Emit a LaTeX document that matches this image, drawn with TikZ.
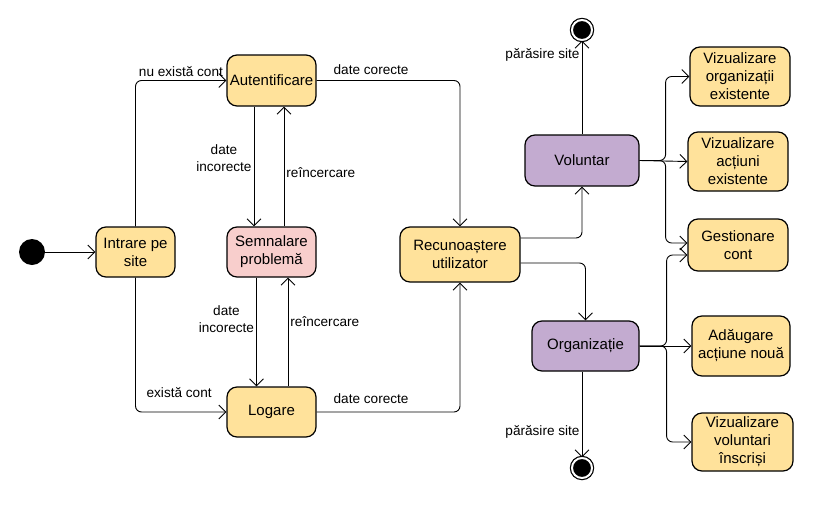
\documentclass[tikz,border=0pt]{standalone}
\usepackage{fontspec}
\setmainfont{Liberation Sans}
\usetikzlibrary{arrows.meta}
\definecolor{stareg}{RGB}{255,226,155}
\definecolor{starev}{RGB}{195,171,208}
\definecolor{starer}{RGB}{248,206,204}
\begin{document}
\begin{tikzpicture}[x=1pt,y=-1pt,
	stare/.style={draw,line width=1.2pt,rounded corners=10pt,fill=stareg,align=center,font=\fontsize{15}{18}\selectfont,inner sep=2pt},
	rol/.style={stare,fill=starev},
	eroare/.style={stare,fill=starer},
	init/.style={circle,fill=black,minimum size=26pt,inner sep=0pt},
	final/.style={circle,draw,fill=black,double=white,double distance=2pt,line width=1.2pt,minimum size=20pt,inner sep=0pt},
	tr/.style={draw,line width=0.9pt,rounded corners=6pt,-{Straight Barb[length=7pt,width=14pt,line width=0.9pt]}},
	lbl/.style={font=\fontsize{13.6}{17.5}\selectfont,align=center,inner sep=2pt}]
	\useasboundingbox (0,0) rectangle (823,523);
	\node[init] (start) at (32,252) {};
	\node[stare,minimum width=79pt,minimum height=50pt] (intrare) at (135.5,252) {Intrare pe\\site};
	\node[stare,minimum width=89pt,minimum height=51pt] (autent) at (271.5,80.5) {Autentificare};
	\node[eroare,minimum width=89pt,minimum height=50pt] (semnal) at (271.5,252) {Semnalare\\problemă};
	\node[stare,minimum width=89pt,minimum height=50pt] (logare) at (271.5,412) {Logare};
	\node[stare,minimum width=120pt,minimum height=55pt] (recun) at (460,254.5) {Recunoaștere\\utilizator};
	\node[rol,minimum width=114pt,minimum height=51pt] (volunt) at (582,160.5) {Voluntar};
	\node[rol,minimum width=107pt,minimum height=50pt] (organiz) at (585.5,346) {Organizație};
	\node[final] (sfarsit1) at (582,30) {};
	\node[final] (sfarsit2) at (582,468) {};
	\node[stare,minimum width=100pt,minimum height=59pt] (vizorg) at (740,76.5) {Vizualizare\\organizații\\existente};
	\node[stare,minimum width=100pt,minimum height=59pt] (vizact) at (738,161.5) {Vizualizare\\acțiuni\\existente};
	\node[stare,minimum width=100pt,minimum height=52pt] (gest) at (738,245) {Gestionare\\cont};
	\node[stare,minimum width=98pt,minimum height=60pt] (adaug) at (741,346) {Adăugare\\acțiune nouă};
	\node[stare,minimum width=101pt,minimum height=58pt] (vizvol) at (742.5,442) {Vizualizare\\voluntari\\înscriși};

	\draw[tr] (start) -- (intrare);
	\draw[tr] (intrare.north) |- node[lbl,pos=0.75,above=1pt] {nu există cont} (autent.west);
	\draw[tr] (intrare.south) |- node[lbl,pos=0.74,above=12pt] {există cont} (logare.west);
	\draw[tr] ([xshift=-17.5]autent.south) -- node[lbl,left,pos=0.43] {date\\incorecte} ([xshift=-17.5]semnal.north);
	\draw[tr] ([xshift=12.5]semnal.north) -- node[lbl,right,pos=0.45] {reîncercare} ([xshift=12.5]autent.south);
	\draw[tr] ([xshift=-15]semnal.south) -- node[lbl,left,pos=0.38] {date\\incorecte} ([xshift=-15]logare.north);
	\draw[tr] ([xshift=16.5]logare.north) -- node[lbl,right,pos=0.6] {reîncercare} ([xshift=16.5]semnal.south);
	\draw[tr] (autent.east) -| node[lbl,pos=0.19,above=3pt] {date corecte} (recun.north);
	\draw[tr] (logare.east) -| node[lbl,pos=0.19,above=6pt] {date corecte} (recun.south);
	\draw[tr] ([yshift=16.5]recun.east) -| (volunt.south);
	\draw[tr] ([yshift=-8.5]recun.east) -| (organiz.north);
	\draw[tr] (volunt.north) -- node[lbl,left,pos=0.85] {părăsire site} (sfarsit1.south);
	\draw[tr] ([xshift=-3.5]organiz.south) -- node[lbl,left,pos=0.7] {părăsire site} (sfarsit2.north);
	\draw[tr] (volunt.east) -- ++(26,0) |- (vizorg.west);
	\draw[tr] (volunt.east) -- (vizact.west);
	\draw[tr] (volunt.east) -- ++(26,0) |- ([yshift=2]gest.west);
	\draw[tr] (organiz.east) -- ++(27,0) |- ([yshift=-10]gest.west);
	\draw[tr] (organiz.east) -- (adaug.west);
	\draw[tr] (organiz.east) -- ++(27,0) |- (vizvol.west);
\end{tikzpicture}
\end{document}
